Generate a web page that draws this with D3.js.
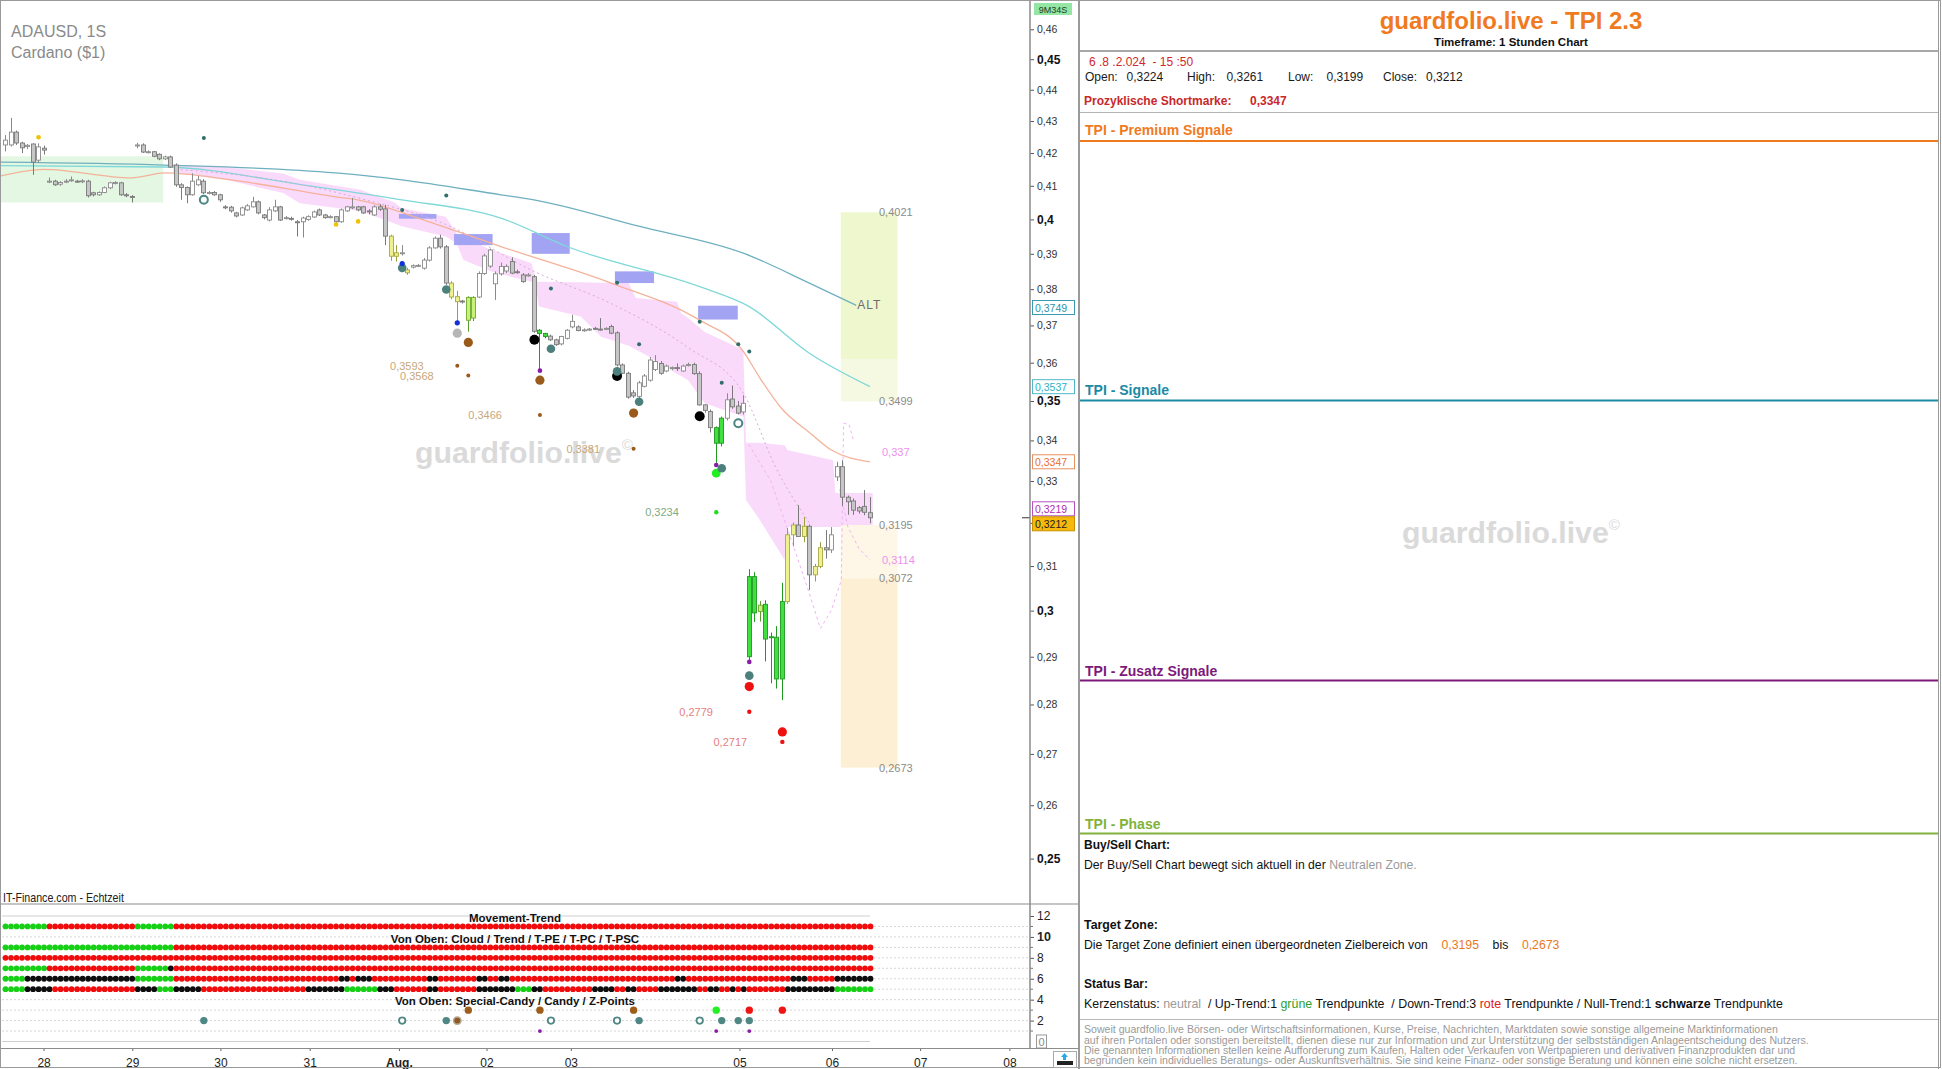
<!DOCTYPE html>
<html><head><meta charset="utf-8">
<script src="https://cdn.jsdelivr.net/npm/d3@7"></script>
<style>
body{margin:0;background:#fff;}
svg{display:block;font-family:"Liberation Sans",Arial,sans-serif;}
text{white-space:pre;}
</style></head><body>
<svg id="c" width="1942" height="1069"></svg>
<script>
// ---------------- DATA ----------------
const candles = [
[.4225,.4256,.4205,.4240],[.4225,.4310,.4220,.4265],[.4265,.4270,.4225,.4231],[.4231,.4235,.4200,.4216],
[.4220,.4228,.4212,.4224],[.4228,.4230,.4133,.4172],[.4178,.4230,.4170,.4219],[.4215,.4223,.4195,.4209],
[.4112,.4125,.4108,.4114],[.4114,.4118,.4100,.4103],[.4105,.4114,.4100,.4110],[.4112,.4120,.4108,.4114],
[.4116,.4128,.4112,.4118],[.4114,.4118,.4110,.4113],[.4113,.4120,.4108,.4115],[.4114,.4118,.4065,.4070],
[.4079,.4082,.4068,.4073],[.4073,.4083,.4070,.4080],[.4080,.4098,.4078,.4094],[.4094,.4112,.4090,.4109],
[.4108,.4114,.4104,.4110],[.4109,.4112,.4070,.4073],[.4073,.4078,.4066,.4072],[.4068,.4072,.4050,.4065],
[.4222,.4232,.4215,.4225],[.4225,.4230,.4200,.4203],[.4203,.4208,.4199,.4204],[.4204,.4206,.4187,.4190],
[.4196,.4199,.4178,.4182],[.4182,.4192,.4178,.4188],[.4188,.4192,.4155,.4157],[.4163,.4168,.4097,.4103],
[.4103,.4108,.4058,.4095],[.4095,.4098,.4048,.4073],[.4073,.4138,.4070,.4114],[.4103,.4130,.4100,.4118],
[.4114,.4120,.4075,.4079],[.4079,.4085,.4074,.4080],[.4080,.4084,.4070,.4073],[.4073,.4076,.4052,.4058],
[.4037,.4042,.4030,.4036],[.4036,.4040,.4020,.4025],[.4019,.4022,.4006,.4010],[.4013,.4038,.4010,.4034],
[.4028,.4045,.4025,.4040],[.4037,.4067,.4035,.4052],[.4052,.4056,.4015,.4019],[.4013,.4016,.4000,.4005],
[.3998,.4036,.3994,.4028],[.4025,.4058,.4022,.4037],[.4037,.4040,.3995,.3998],[.4004,.4010,.4000,.4005],
[.4003,.4008,.3996,.4000],[.3993,.3998,.3950,.3992],[.3993,.4008,.3947,.4004],[.4000,.4012,.3996,.4008],
[.4007,.4026,.4004,.4022],[.4028,.4032,.4010,.4013],[.4013,.4016,.4002,.4005],[.4007,.4012,.4003,.4008],
[.4008,.4010,.3990,.3993],[.3993,.4032,.3990,.4028],[.4025,.4040,.4022,.4037],[.4036,.4064,.4030,.4037],
[.4037,.4040,.4024,.4028],[.4037,.4040,.4016,.4019],[.4025,.4030,.4015,.4024],[.4013,.4042,.4010,.4037],
[.4037,.4045,.4025,.4030],[.4031,.4043,.3925,.3951],[.3951,.3955,.3880,.3893],[.3903,.3925,.3878,.3893],
[.3902,.3925,.3895,.3903],[.3854,.3860,.3840,.3846],[.3862,.3870,.3858,.3866],[.3866,.3871,.3862,.3867],
[.3859,.3888,.3855,.3882],[.3882,.3922,.3878,.3917],[.3917,.3950,.3915,.3945],[.3945,.3955,.3915,.3920],
[.3920,.3925,.3812,.3817],[.3817,.3822,.3772,.3778],[.3779,.3795,.3706,.3765],[.3767,.3770,.3760,.3766],
[.3714,.3780,.3683,.3777],[.3720,.3780,.3712,.3777],[.3778,.3850,.3775,.3844],[.3844,.3900,.3840,.3894],
[.3865,.3915,.3860,.3911],[.3815,.3850,.3770,.3843],[.3843,.3875,.3838,.3864],[.3851,.3870,.3845,.3864],
[.3878,.3890,.3842,.3845],[.3849,.3855,.3843,.3848],[.3840,.3845,.3818,.3821],[.3839,.3845,.3835,.3840],
[.3835,.3840,.3680,.3684],[.3678,.3690,.3581,.3687],[.3670,.3680,.3665,.3678],[.3671,.3675,.3658,.3661],
[.3661,.3664,.3645,.3648],[.3650,.3672,.3646,.3670],[.3665,.3690,.3662,.3687],[.3696,.3729,.3692,.3711],
[.3696,.3700,.3684,.3686],[.3687,.3692,.3683,.3688],[.3688,.3693,.3685,.3690],[.3692,.3696,.3688,.3691],
[.3690,.3720,.3686,.3689],[.3691,.3695,.3687,.3692],[.3697,.3702,.3676,.3679],[.3680,.3684,.3590,.3594],
[.3594,.3598,.3570,.3572],[.3572,.3576,.3506,.3510],[.3521,.3528,.3508,.3513],[.3512,.3552,.3505,.3547],
[.3538,.3570,.3535,.3565],[.3554,.3615,.3550,.3607],[.3582,.3620,.3578,.3603],[.3598,.3604,.3568,.3572],
[.3578,.3595,.3575,.3591],[.3586,.3590,.3580,.3587],[.3587,.3598,.3578,.3586],[.3578,.3595,.3576,.3591],
[.3594,.3600,.3590,.3595],[.3595,.3600,.3568,.3571],[.3571,.3577,.3488,.3490],[.3490,.3492,.3470,.3476],
[.3473,.3478,.3420,.3432],[.3393,.3435,.3339,.3432],[.3393,.3460,.3385,.3456],[.3456,.3520,.3450,.3503],
[.3505,.3540,.3480,.3485],[.3487,.3500,.3466,.3469],[.3472,.3515,.3465,.3494],[.2900,.3093,.2885,.3076],
[.2995,.3086,.2975,.3076],[.2998,.3021,.2976,.3012],[.2938,.3023,.2890,.3014],[.2943,.2952,.2844,.2941],
[.2853,.2966,.2833,.2942],[.2853,.3062,.2809,.3020],[.3020,.3188,.3015,.3172],[.3172,.3201,.3145,.3195],
[.3195,.3242,.3190,.3168],[.3168,.3214,.3155,.3192],[.3192,.3196,.3046,.3080],[.3080,.3105,.3065,.3099],
[.3099,.3155,.3095,.3142],[.3142,.3183,.3117,.3137],[.3137,.3190,.3130,.3172],[.3310,.3347,.3300,.3335],
[.3335,.3351,.3240,.3261],[.3261,.3265,.3219,.3250],[.3252,.3258,.3219,.3230],[.3236,.3240,.3222,.3228],
[.3239,.3278,.3218,.3225],[.3224,.3261,.3199,.3212]
];
const yellowBars = [70,71,73,81,82,142,143,145,147,148];
const lightGreenBars = [84,85,137];
const greenBars = [97,98,129,130,135,136,138,139,140,141];

const maTeal = [[-1,.4172],[29,.4163],[60,.4139],[72,.4118],[90,.4073],[96,.4058],[115,.3980],[134,.3902],[146,.3817],[154.5,.3755]];
const maCyan = [[-1,.4161],[29,.4157],[54,.4103],[72,.4058],[90,.4004],[102,.3921],[127,.3802],[135,.3752],[146,.3625],[157,.3537]];
const maOrange = [[-1,.4129],[7,.4150],[23,.4124],[29,.4139],[41,.4118],[60,.4067],[64,.4058],[77,.3993],[90,.3921],[110,.3817],[126,.3715],[134,.3630],[137,.3560],[141,.3480],[146,.3420],[150,.3376],[157,.3347]];

const cloud = [[30.5,.4163,.4140],[40,.4157,.4118],[50.5,.4137,.4078],[53.5,.4118,.4048],[64.5,.4088,.4025],[70.7,.4050,.3988],[72,.4033,.3980],[80,.4008,.3950],[82,.3959,.3930],[83.2,.3950,.3882],[88.2,.3911,.3850],[89.5,.3905,.3844],[95.6,.3873,.3821],[96.4,.3821,.3800],[96.9,.3821,.3752],[104.5,.3819,.3724],[108.2,.3818,.3669],[113.2,.3817,.3645],[114.5,.3775,.3635],[117,.3772,.3615],[122,.3765,.3570],[122.7,.3733,.3565],[124,.3720,.3554],[127,.3682,.3494],[134,.3634,.3460],[134.5,.3394,.3254],[137,.3394,.3207],[141.5,.3388,.3114],[142,.3376,.3190],[150.3,.3351,.3190],[150.7,.3271,.3190],[157.5,.3271,.3190]];
const cloudMid = [[31,.4150],[50,.4115],[65,.4060],[80,.3985],[96,.3850],[110,.3760],[124,.3640],[134,.3520],[140,.3330],[146,.3200]];
const dashA = [[135,.3390],[139,.3300],[143,.3150],[146,.3038],[148,.2961],[150,.3001],[151.8,.3068],[152.2,.3443],[153.2,.3440],[154,.3400]];
const dashB = [[151.5,.3280],[153,.3190],[155,.3140],[157,.3114]];

const greenZone = [-1, 28.7, .4190, .4050];
const purpleZones = [[71.5,78.3,.4016,.4002],[81.5,88.5,.3957,.3925],[95.6,102.5,.3960,.3900],[110.7,117.8,.3850,.3817],[125.8,133,.3754,.3716]];
const targetZoneIdx = [151.7, 162];
const targetBands = [[.4021,.3610,'#eff7cf'],[.3610,.3499,'#f5f9e2'],[.3195,.3072,'#fef6e6'],[.3072,.2673,'#fdefd3']];
const zoneLabels = [['0,4021',.4021],['0,3499',.3499],['0,3195',.3195],['0,3072',.3072],['0,2673',.2673]];
const pinkLabels = [['0,337',.337],['0,3114',.3114]];

const markers = [
 [6,.4249,'ydot'],[36,.4247,'tdot'],[36,.4058,'tring'],[60,.3985,'ydot'],[64,.3994,'ydot'],
 [72,.4028,'tdot'],[72,.3860,'tcirc'],[72,.3872,'bdot'],[80,.4071,'tdot'],[80,.3799,'tcirc'],
 [82,.3707,'bdot'],[82,.3679,'gcirc'],[84,.3654,'brcirc'],[82,.3592,'brdot'],[84,.3566,'brdot'],
 [96,.3661,'kdot'],[97,.3579,'pdot'],[97,.3554,'brcirc'],[97,.3464,'brdot'],[99,.3637,'tcirc'],[99,.3802,'tdot'],
 [111,.3818,'tdot'],[111,.3565,'kdot'],[111,.3577,'tcirc'],[115,.3649,'tdot'],[115,.3498,'tcirc'],
 [114,.3469,'brcirc'],[114,.3379,'brdot'],[126,.3710,'tdot'],[126,.3461,'kdot'],[130,.3547,'tdot'],
 [133,.3649,'tdot'],[135,.3630,'tdot'],[129,.3339,'pdot'],[129,.3319,'gdot'],[130,.3331,'tcirc'],
 [129,.3225,'gsdot'],[133,.3443,'tring'],[135,.2889,'pdot'],[135,.2860,'tcirc'],[135,.2837,'rdot'],
 [135,.2785,'rsdot'],[141,.2744,'rdot'],[141,.2724,'rsdot']
];
const dotLabels = [['0,3593',76,.3592,'#c8a77c'],['0,3568',77.8,.3566,'#c8a77c'],['0,3466',90.2,.3464,'#c8a77c'],['0,3381',108,.3379,'#c8a77c'],['0,3234',122.3,.3225,'#7fab80'],['0,2779',128.5,.2785,'#e58080'],['0,2717',134.7,.2724,'#e58080']];

const yTicks = [.25,.26,.27,.28,.29,.30,.31,.32,.33,.34,.35,.36,.37,.38,.39,.40,.41,.42,.43,.44,.45,.46];
const yBold = [.25,.30,.35,.40,.45];
const yHiddenLabel = [.32];
const axisBoxes = [['0,3749',.3749,'#2f93ad','#fff','#3a9ab4'],['0,3537',.3537,'#2ab3c4','#fff','#50b8c8'],['0,3347',.3347,'#e8702c','#fff','#e89060'],['0,3219',.3219,'#b02cb8','#fff','#b850c0'],['0,3212',.3212,'#222','#f7b90c','#c89000']];

const dayLabels = ['28','29','30','31','Aug.','02','03','05','06','07','08'];
const dayIdx = [7,23.1,39.1,55.3,71.5,87.4,102.7,133.3,150.1,166.1,182.3];

const indRows = [
 [11,'g8 r16 g7 r127'],
 [9,'g31 r127'],
 [8,'r158'],
 [7,'g8 r16 g6 k1 r127'],
 [6,'g4 k20 g7 r30 k2 r1 k3 r10 k2 r7 k2 r2 k2 r30 k2 r19 k3 r5 k7'],
 [5,'g4 k5 r15 k4 g3 k5 r19 k7 g6 k3 r6 k2 r7 k7 g3 k2 r9 k4 r2 k2 r4 k7 r2 k2 r2 k1 r1 k1 r7 k9 g7']
];
const specialCandy = [[84,'brown'],[97,'brown'],[114,'brown'],[129,'lime'],[135,'red'],[141,'red']];
const candyRow = [[36,'teal'],[72,'ring'],[80,'teal'],[82,'brown2'],[99,'ring'],[111,'ring'],[115,'teal'],[126,'ring'],[130,'teal'],[133,'teal'],[135,'teal']];
const zPoints = [97,129,135];
const indTicks = [2,4,6,8,10,12];

// ---------------- SCALES ----------------
const svg = d3.select('#c');
const x = d3.scaleLinear().domain([0,157]).range([5,870]);
const y = d3.scaleLog().domain([0.25,0.46]).range([858.6,29.3]);
const yi = d3.scaleLinear().domain([0,12]).range([1041.5,916]);

svg.append('rect').attr('width',1942).attr('height',1069).attr('fill','#fff');

// ---------------- MAIN CHART ----------------
const defs = svg.append('defs');
defs.append('clipPath').attr('id','mc').append('rect').attr('x',1).attr('y',1).attr('width',1028).attr('height',902);
const main = svg.append('g').attr('clip-path','url(#mc)');

main.append('rect').attr('x',x(greenZone[0])).attr('width',x(greenZone[1])-x(greenZone[0]))
  .attr('y',y(greenZone[2])).attr('height',y(greenZone[3])-y(greenZone[2])).attr('fill','#e3f7e3');

main.append('path').datum(cloud).attr('fill','#f9d6f9').attr('opacity',0.9)
  .attr('d',d3.area().x(d=>x(d[0])).y0(d=>y(d[2])).y1(d=>y(d[1])));

targetBands.forEach(b=>{
  main.append('rect').attr('x',x(targetZoneIdx[0])).attr('width',x(targetZoneIdx[1])-x(targetZoneIdx[0]))
    .attr('y',y(b[0])).attr('height',y(b[1])-y(b[0])).attr('fill',b[2]);
});

function watermark(g,cx,by,size,w){
  const t=g.append('text').attr('font-size',size).attr('font-weight','bold').attr('fill','#dadada').attr('x',0).attr('y',0);
  t.append('tspan').text('guardfolio.live');
  t.append('tspan').text('©').attr('font-size',size*0.5).attr('dy',-size*0.45).attr('font-weight','normal');
  const ww=t.node().getComputedTextLength();
  const s=w/ww;
  t.attr('transform',`translate(${cx-w/2},${by}) scale(${s},1)`);
}
watermark(main,524,463,30,218);

main.selectAll('.pz').data(purpleZones).join('rect').attr('class','pz')
  .attr('x',d=>x(d[0])).attr('width',d=>x(d[1])-x(d[0]))
  .attr('y',d=>y(d[2])).attr('height',d=>y(d[3])-y(d[2])).attr('fill','#a3a3f3');

const ln = d3.line().x(d=>x(d[0])).y(d=>y(d[1])).curve(d3.curveMonotoneX);
main.append('path').datum(maTeal).attr('d',ln).attr('fill','none').attr('stroke','#6fb0c0').attr('stroke-width',1.3);
main.append('path').datum(maCyan).attr('d',ln).attr('fill','none').attr('stroke','#7fd8d8').attr('stroke-width',1.3);
main.append('path').datum(maOrange).attr('d',ln).attr('fill','none').attr('stroke','#f4b29a').attr('stroke-width',1.3);
const lnL = d3.line().x(d=>x(d[0])).y(d=>y(d[1]));
main.append('path').datum(cloudMid).attr('d',ln).attr('fill','none').attr('stroke','#d8a8d8').attr('stroke-width',1).attr('stroke-dasharray','2,3');
main.append('path').datum(dashA).attr('d',lnL).attr('fill','none').attr('stroke','#f0b4f0').attr('stroke-width',1).attr('stroke-dasharray','3,3');
main.append('path').datum(dashB).attr('d',lnL).attr('fill','none').attr('stroke','#f0b4f0').attr('stroke-width',1).attr('stroke-dasharray','3,3');

function cstyle(i,d){
  if(yellowBars.includes(i)) return {fill:'#eff28c',stroke:'#a9a845',wick:'#9aa040'};
  if(lightGreenBars.includes(i)) return {fill:'#c6f27a',stroke:'#70a830',wick:'#5a9a2a'};
  if(greenBars.includes(i)) return {fill:'#3fe03f',stroke:'#1f9a1f',wick:'#1f9a1f'};
  return d[3]>=d[0]?{fill:'#ffffff',stroke:'#8a8a8a',wick:'#8a8a8a'}:{fill:'#c6c6c6',stroke:'#7a7a7a',wick:'#7a7a7a'};
}
const cg = main.append('g');
cg.selectAll('.wk').data(candles).join('line').attr('class','wk')
  .attr('x1',(d,i)=>Math.round(x(i))+0.5).attr('x2',(d,i)=>Math.round(x(i))+0.5)
  .attr('y1',d=>y(d[1])).attr('y2',d=>y(d[2])).attr('stroke',(d,i)=>cstyle(i,d).wick).attr('stroke-width',1);
cg.selectAll('.bd').data(candles).join('rect').attr('class','bd')
  .attr('x',(d,i)=>Math.round(x(i))-1.5).attr('width',4)
  .attr('y',d=>Math.min(y(d[0]),y(d[3])))
  .attr('height',d=>Math.max(1,Math.abs(y(d[0])-y(d[3]))))
  .attr('fill',(d,i)=>cstyle(i,d).fill).attr('stroke',(d,i)=>cstyle(i,d).stroke).attr('stroke-width',0.9);

const mstyle = {
  ydot:{r:2.3,fill:'#f2c200',stroke:'none'},
  tdot:{r:2,fill:'#2f6e6a',stroke:'none'},
  tring:{r:4,fill:'#fff',stroke:'#4a8682',sw:2},
  tcirc:{r:4.3,fill:'#4b807c',stroke:'none'},
  bdot:{r:2.6,fill:'#1230d8',stroke:'none'},
  gcirc:{r:4.6,fill:'#b6b6b6',stroke:'none'},
  brcirc:{r:4.6,fill:'#9a5a1a',stroke:'none'},
  brdot:{r:2,fill:'#9a5a1a',stroke:'none'},
  kdot:{r:5,fill:'#000',stroke:'none'},
  pdot:{r:2.3,fill:'#8a1aa8',stroke:'none'},
  gdot:{r:4.4,fill:'#22ee22',stroke:'none'},
  gsdot:{r:2.2,fill:'#22dd22',stroke:'none'},
  rdot:{r:4.6,fill:'#ee1111',stroke:'none'},
  rsdot:{r:2.2,fill:'#ee1111',stroke:'none'}
};
main.selectAll('.mk').data(markers).join('circle').attr('class','mk')
  .attr('cx',d=>x(d[0])+0.5).attr('cy',d=>y(d[1])).attr('r',d=>mstyle[d[2]].r)
  .attr('fill',d=>mstyle[d[2]].fill).attr('stroke',d=>mstyle[d[2]].stroke).attr('stroke-width',d=>mstyle[d[2]].sw||0);

main.selectAll('.dl').data(dotLabels).join('text').attr('class','dl')
  .attr('x',d=>x(d[1])).attr('y',d=>y(d[2])+4).attr('text-anchor','end')
  .attr('font-size',11).attr('fill',d=>d[3]).text(d=>d[0]);

main.selectAll('.zl').data(zoneLabels).join('text').attr('class','zl')
  .attr('x',879).attr('y',d=>y(d[1])+4).attr('font-size',11).attr('fill','#8c8c8c').text(d=>d[0]);
main.selectAll('.pl').data(pinkLabels).join('text').attr('class','pl')
  .attr('x',882).attr('y',d=>y(d[1])+4).attr('font-size',11).attr('fill','#ee90ee').text(d=>d[0]);
main.append('text').attr('x',x(154.7)).attr('y',y(maTeal[maTeal.length-1][1])+4).attr('font-size',12)
  .attr('fill','#6e6e6e').attr('letter-spacing',1).text('ALT');

svg.append('text').attr('x',11).attr('y',37).attr('font-size',16).attr('fill','#8a8a8a').text('ADAUSD, 1S');
svg.append('text').attr('x',11).attr('y',58).attr('font-size',16).attr('fill','#8a8a8a').text('Cardano ($1)');

// ---------------- Y AXIS ----------------
const isIn = (arr,d)=>arr.some(b=>Math.abs(b-d)<1e-6);
const fmt = v => isIn(yHiddenLabel,v) ? '' : (Math.round(v*100)/100).toString().replace('.',',');
const ya = svg.append('g').attr('transform','translate(1030,0)')
  .call(d3.axisRight(y).tickValues(yTicks).tickFormat(fmt).tickSize(4));
ya.select('.domain').remove();
ya.selectAll('.tick line').attr('stroke','#555');
ya.selectAll('.tick text').attr('x',7).attr('font-family','"Liberation Sans",Arial,sans-serif')
  .attr('font-size',d=>isIn(yBold,d)?12:10.5)
  .attr('font-weight',d=>isIn(yBold,d)?'bold':'normal')
  .attr('fill',d=>isIn(yBold,d)?'#111':'#333');
ya.selectAll('.tick text').filter(d=>isIn(yHiddenLabel,d)).remove();

const boxes = axisBoxes.map(b=>({t:b[0],v:b[1],tc:b[2],fill:b[3],bc:b[4],cy:y(b[1])}));
boxes.sort((a,b)=>a.cy-b.cy);
for(let k=1;k<boxes.length;k++){
  const gap = boxes[k].cy-boxes[k-1].cy;
  if(gap<15){ const sh=(15-gap)/2; boxes[k-1].cy-=sh; boxes[k].cy+=sh; }
}
const bg = svg.append('g');
boxes.forEach(b=>{
  bg.append('rect').attr('x',1032.5).attr('y',b.cy-7).attr('width',42).attr('height',14)
    .attr('fill',b.fill).attr('stroke',b.bc).attr('stroke-width',1);
  bg.append('text').attr('x',1035).attr('y',b.cy+4).attr('font-size',10.5).attr('fill',b.tc).text(b.t);
});
svg.append('line').attr('x1',1022).attr('x2',1030).attr('y1',y(0.3212)).attr('y2',y(0.3212)).attr('stroke','#333');

svg.append('rect').attr('x',1034).attr('y',3).attr('width',38).attr('height',12).attr('fill','#94e6a4');
svg.append('text').attr('x',1053).attr('y',12.5).attr('text-anchor','middle').attr('font-size',9).attr('fill','#1d3d1d').text('9M34S');

// ---------------- INDICATOR PANEL ----------------
const ig = svg.append('g');
d3.range(1,12).forEach(v=>{
  ig.append('line').attr('x1',2).attr('x2',1030).attr('y1',yi(v)).attr('y2',yi(v))
    .attr('stroke','#d6d6d6').attr('stroke-dasharray','2,2');
});
[0,12].forEach(v=>ig.append('line').attr('x1',2).attr('x2',870).attr('y1',yi(v)).attr('y2',yi(v)).attr('stroke','#cfcfcf'));

const dcol = {g:'#16d016',r:'#f00c0c',k:'#0d0d0d'};
indRows.forEach(row=>{
  const seq=[]; row[1].split(' ').forEach(s=>{const c=s[0],n=+s.slice(1); for(let k=0;k<n;k++) seq.push(c);});
  ig.selectAll(null).data(seq).join('circle').attr('cx',(d,i)=>x(i)+0.5).attr('cy',yi(row[0]))
    .attr('r',2.9).attr('fill',d=>dcol[d]);
});
const ccol = {brown:'#9c5e1a',lime:'#22f022',red:'#f01414',teal:'#4e8784'};
ig.selectAll('.sc').data(specialCandy).join('circle').attr('class','sc').attr('cx',d=>x(d[0])+0.5).attr('cy',yi(3))
  .attr('r',3.7).attr('fill',d=>ccol[d[1]]);
ig.selectAll('.cd').data(candyRow).join('circle').attr('class','cd').attr('cx',d=>x(d[0])+0.5).attr('cy',yi(2))
  .attr('r',d=>d[1]==='ring'?3.2:3.7)
  .attr('fill',d=>d[1]==='ring'?'#fff':(d[1]==='brown2'?'#8c5a22':ccol[d[1]]))
  .attr('stroke',d=>d[1]==='ring'?'#4e8784':(d[1]==='brown2'?'#b9a58f':'none'))
  .attr('stroke-width',d=>d[1]==='ring'?1.8:1.5);
ig.selectAll('.zp').data(zPoints).join('circle').attr('class','zp').attr('cx',d=>x(d)+0.5).attr('cy',yi(1))
  .attr('r',1.9).attr('fill','#8a1aa8');

ig.append('text').attr('x',515).attr('y',922).attr('text-anchor','middle').attr('font-size',11.5).attr('font-weight','bold').attr('fill','#111').text('Movement-Trend');
ig.append('text').attr('x',515).attr('y',943).attr('text-anchor','middle').attr('font-size',11.5).attr('font-weight','bold').attr('fill','#111').text('Von Oben: Cloud / Trend / T-PE / T-PC / T-PSC');
ig.append('text').attr('x',515).attr('y',1004.5).attr('text-anchor','middle').attr('font-size',11.5).attr('font-weight','bold').attr('fill','#111').text('Von Oben: Special-Candy / Candy / Z-Points');

const ia = svg.append('g').attr('transform','translate(1030,0)')
  .call(d3.axisRight(yi).tickValues(indTicks).tickSize(4).tickFormat(d3.format('d')));
ia.select('.domain').remove();
ia.selectAll('.tick line').attr('stroke','#555');
ia.selectAll('.tick text').attr('x',7).attr('font-family','"Liberation Sans",Arial,sans-serif')
  .attr('font-size',d=>d===10?12.5:12).attr('font-weight',d=>d===10?'bold':'normal').attr('fill','#222');
d3.range(1,12,2).forEach(v=>svg.append('line').attr('x1',1030).attr('x2',1033).attr('y1',yi(v)).attr('y2',yi(v)).attr('stroke','#777'));
svg.append('rect').attr('x',1036.5).attr('y',1035).attr('width',10).attr('height',13).attr('fill','#fff').attr('stroke','#999');
svg.append('text').attr('x',1041.5).attr('y',1045.5).attr('text-anchor','middle').attr('font-size',11).attr('fill','#888').text('0');

const xa = svg.append('g').attr('transform','translate(0,1048)')
  .call(d3.axisBottom(x).tickValues(dayIdx).tickSize(3).tickFormat((d,i)=>dayLabels[i]));
xa.select('.domain').remove();
xa.selectAll('.tick line').attr('stroke','#666');
xa.selectAll('.tick text').attr('y',10).attr('font-family','"Liberation Sans",Arial,sans-serif')
  .attr('font-size',12).attr('fill','#222').attr('font-weight',(d,i)=>dayLabels[i]==='Aug.'?'bold':'normal');

svg.append('line').attr('x1',0).attr('x2',1079).attr('y1',904).attr('y2',904).attr('stroke','#8c8c8c').attr('stroke-width',1.2);
svg.append('line').attr('x1',0).attr('x2',1079).attr('y1',1048.5).attr('y2',1048.5).attr('stroke','#8c8c8c').attr('stroke-width',1.2);
svg.append('line').attr('x1',1030).attr('x2',1030).attr('y1',0).attr('y2',1048).attr('stroke','#8a8a8a').attr('stroke-width',1.5);
svg.append('line').attr('x1',1079).attr('x2',1079).attr('y1',0).attr('y2',1069).attr('stroke','#9a9a9a').attr('stroke-width',2);
svg.append('rect').attr('x',0.5).attr('y',0.5).attr('width',1940).attr('height',1067).attr('fill','none').attr('stroke','#9a9a9a');
svg.append('line').attr('x1',1938.5).attr('x2',1938.5).attr('y1',0).attr('y2',1069).attr('stroke','#9a9a9a');

function fitText(parent, x0, y0, parts, size, width){
  const t = parent.append('text').attr('font-size',size).attr('x',0).attr('y',0);
  parts.forEach(p=>t.append('tspan').text(p[0]).attr('fill',p[1]||'#222').attr('font-weight',p[2]||'normal'));
  const w = t.node().getComputedTextLength();
  const s = width? width/w : 1;
  t.attr('transform',`translate(${x0},${y0}) scale(${s},1)`);
  return t;
}
fitText(svg,3,902,[['IT-Finance.com - Echtzeit','#202020']],12,121);

svg.append('rect').attr('x',1053.5).attr('y',1051.5).attr('width',23).attr('height',16).attr('fill','#fff').attr('stroke','#aaa');
svg.append('path').attr('d','M1064.5,1053 L1068,1057 L1066,1057 L1066,1060 L1063,1060 L1063,1057 L1061,1057 Z').attr('fill','#2aa8e8');
svg.append('rect').attr('x',1057).attr('y',1061).attr('width',16).attr('height',4).attr('fill','#222');

// ---------------- RIGHT PANEL ----------------
const rp = svg.append('g');
rp.append('text').attr('x',1511).attr('y',28.5).attr('text-anchor','middle').attr('font-size',24).attr('font-weight','bold').attr('fill','#f07a1e').text('guardfolio.live - TPI 2.3');
rp.append('text').attr('x',1511).attr('y',46).attr('text-anchor','middle').attr('font-size',11.5).attr('font-weight','bold').attr('fill','#111').text('Timeframe: 1 Stunden Chart');
rp.append('line').attr('x1',1080).attr('x2',1938).attr('y1',51).attr('y2',51).attr('stroke','#a8a8a8').attr('stroke-width',2);
rp.append('text').attr('x',1089).attr('y',65.5).attr('font-size',12).attr('fill','#d0282c').text('6 .8 .2.024  - 15 :50');
const ohlcT = [['Open:',1085],['0,3224',1126.5],['High:',1187],['0,3261',1226.5],['Low:',1288],['0,3199',1326.5],['Close:',1383],['0,3212',1426]];
rp.selectAll('.oh').data(ohlcT).join('text').attr('class','oh').attr('x',d=>d[1]).attr('y',81).attr('font-size',12).attr('fill','#1a1a1a').text(d=>d[0]);
rp.append('text').attr('x',1084).attr('y',105).attr('font-size',12).attr('font-weight','bold').attr('fill','#c8282c').text('Prozyklische Shortmarke:');
rp.append('text').attr('x',1250).attr('y',105).attr('font-size',12).attr('font-weight','bold').attr('fill','#c8282c').text('0,3347');
rp.append('line').attr('x1',1080).attr('x2',1938).attr('y1',112.5).attr('y2',112.5).attr('stroke','#b4b4b4').attr('stroke-width',1.2);

const sections = [['TPI - Premium Signale','#f07a1e',135,141],['TPI - Signale','#1a8aa5',395,400.5],['TPI - Zusatz Signale','#7c1a7c',675.5,680.5],['TPI - Phase','#82b23c',828.5,833.5]];
sections.forEach(s=>{
  rp.append('text').attr('x',1085).attr('y',s[2]).attr('font-size',14).attr('font-weight','bold').attr('fill',s[1]).text(s[0]);
  rp.append('line').attr('x1',1080).attr('x2',1938).attr('y1',s[3]).attr('y2',s[3]).attr('stroke',s[1]).attr('stroke-width',2.2);
});
watermark(rp,1511,543,30,218);

fitText(rp,1084,848.5,[['Buy/Sell Chart:','#111','bold']],13,86);
fitText(rp,1084,869,[['Der Buy/Sell Chart bewegt sich aktuell in der ','#111'],['Neutralen Zone.','#9a9a9a']],13,333);
fitText(rp,1084,928.5,[['Target Zone:','#111','bold']],13,74);
fitText(rp,1084,948.5,[['Die Target Zone definiert einen übergeordneten Zielbereich von    ','#111'],['0,3195','#e8781e'],['    bis    ','#111'],['0,2673','#e8781e']],13,476);
fitText(rp,1084,988,[['Status Bar:','#111','bold']],13,64);
fitText(rp,1084,1008,[['Kerzenstatus: ','#111'],['neutral','#9a9a9a'],['  / Up-Trend:1 ','#111'],['grüne','#2ea02e'],[' Trendpunkte  / Down-Trend:3 ','#111'],['rote','#e01818'],[' Trendpunkte / Null-Trend:1 ','#111'],['schwarze','#111','bold'],[' Trendpunkte','#111']],13,700);
rp.append('line').attr('x1',1080).attr('x2',1938).attr('y1',1019.5).attr('y2',1019.5).attr('stroke','#b8b8b8').attr('stroke-width',1.2);
const disclaimer = [
 ['Soweit guardfolio.live Börsen- oder Wirtschaftsinformationen, Kurse, Preise, Nachrichten, Marktdaten sowie sonstige allgemeine Marktinformationen',695,1032.5],
 ['auf ihren Portalen oder sonstigen bereitstellt, dienen diese nur zur Information und zur Unterstützung der selbstständigen Anlageentscheidung des Nutzers.',726,1043.5],
 ['Die genannten Informationen stellen keine Aufforderung zum Kaufen, Halten oder Verkaufen von Wertpapieren und derivativen Finanzprodukten dar und',712,1053.5],
 ['begründen kein individuelles Beratungs- oder Auskunftsverhältnis. Sie sind keine Finanz- oder sonstige Beratung und können eine solche nicht ersetzen.',715,1063.5]
];
disclaimer.forEach(d=>fitText(rp,1084,d[2],[[d[0],'#9a9a9a']],10.5,d[1]));
</script></body></html>
